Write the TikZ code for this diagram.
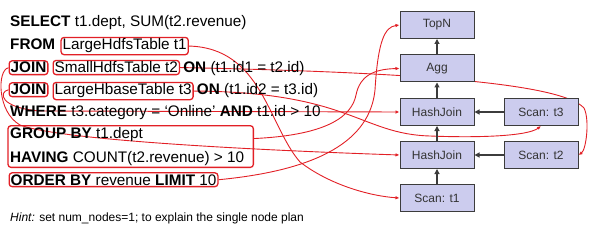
\documentclass[tikz,border=0pt]{standalone}
\usepackage{fontspec}
\setmainfont{Liberation Sans}
\usetikzlibrary{positioning,fit,arrows.meta}
\pgfdeclarelayer{back}
\pgfsetlayers{back,main}
\definecolor{hlred}{RGB}{226,32,38}
\definecolor{opfill}{RGB}{204,204,238}
\definecolor{opline}{RGB}{60,60,60}

\begin{document}
\begin{tikzpicture}[x=1pt,y=-1pt,
  sql/.style={font=\fontsize{15.3}{18}\selectfont,inner sep=0pt,anchor=base west},
  hlbox/.style={draw=hlred,line width=1.3pt,rounded corners=3pt},
  hl/.style={sql,hlbox,inner sep=1.5pt},
  op/.style={draw=opline,line width=1pt,fill=opfill,minimum width=74pt,minimum height=27pt,font=\fontsize{12}{14}\selectfont,text=black!80},
  flow/.style={-{Triangle[length=5pt,width=5pt]},line width=1.1pt,opline},
  link/.style={-{Latex[length=4pt,width=3.5pt]},hlred,line width=0.9pt}]
\useasboundingbox (0,0) rectangle (595,230);

% query text
\node[sql] (sel) at (10,27) {\textbf{SELECT} t1.dept, SUM(t2.revenue)};
\node[sql] (from) at (10,50) {\textbf{FROM}};
\node[hl,base right=5pt of from] (lhdfs) {LargeHdfsTable t1};
\node[hl] (join1) at (8.5,73) {\textbf{JOIN}};
\node[hl,base right=4pt of join1] (sht) {SmallHdfsTable t2};
\node[sql,base right=3pt of sht] (on1) {\textbf{ON} (t1.id1 = t2.id)};
\node[hl] (join2) at (8.5,95) {\textbf{JOIN}};
\node[hl,base right=4pt of join2] (lht) {LargeHbaseTable t3};
\node[sql,base right=3pt of lht] (on2) {\textbf{ON} (t1.id2 = t3.id)};
\node[sql] (where) at (10,117) {\textbf{WHERE} t3.category = `Online' \textbf{AND} t1.id > 10};
\node[sql] (grpby) at (10,139) {\textbf{GROUP BY} t1.dept};
\node[sql] (having) at (10,162) {\textbf{HAVING} COUNT(t2.revenue) > 10};
\coordinate (grpend) at ([xshift=7pt]having.east);
\node[hlbox,fit=(grpby)(having)(grpend),inner sep=2pt] (grp) {};
\node[hl] (ordby) at (8.5,185) {\textbf{ORDER BY} revenue \textbf{LIMIT} 10};
\node[sql,font=\fontsize{12}{14}\selectfont] (hint) at (10,221) {\textit{Hint:} set num\_nodes=1; to explain the single node plan};

% plan
\node[op] (topn) at (437,25) {TopN};
\node[op] (agg) at (437,68.5) {Agg};
\node[op] (hjtop) at (437,112) {HashJoin};
\node[op] (hjbot) at (437,155) {HashJoin};
\node[op] (scant1) at (437,198) {Scan: t1};
\node[op] (scant3) at (541,112) {Scan: t3};
\node[op] (scant2) at (541,155) {Scan: t2};
\draw[flow] (scant1) -- (hjbot);
\draw[flow] (hjbot) -- (hjtop);
\draw[flow] (hjtop) -- (agg);
\draw[flow] (agg) -- (topn);
\draw[flow] (scant2) -- (hjbot);
\draw[flow] (scant3) -- (hjtop);

% mapping
\begin{pgfonlayer}{back}
\draw[link] (lhdfs.east) .. controls (262,48) and (268,125) .. (300,162) .. controls (330,185) and (370,196) .. (scant1.west);
\draw[link] (sht.east) .. controls (400,72) and (560,82) .. (584,108) .. controls (590,120) and (586,150) .. (scant2.east);
\draw[link] (lht.east) .. controls (350,92) and (360,134) .. (430,136) .. controls (480,138) and (528,136) .. (scant3.south);
\draw[link] (join1.west) .. controls (-3,70) and (-3,112) .. (20,125) .. controls (60,140) and (250,150) .. (hjbot.west);
\draw[link] (join2.west) .. controls (-2,92) and (0,108) .. (40,111) -- (hjtop.west);
\draw[link] ([yshift=8pt]grp.east) .. controls (330,135) and (352,115) .. (356,95) .. controls (360,75) and (375,69) .. (agg.west);
\draw[link] (ordby.east) .. controls (320,170) and (370,140) .. (375,90) .. controls (378,40) and (385,27) .. (topn.west);
\end{pgfonlayer}
\end{tikzpicture}
\end{document}
